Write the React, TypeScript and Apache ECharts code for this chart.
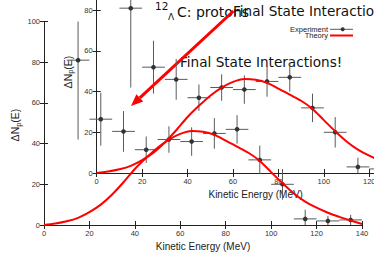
import React, { useEffect, useRef } from "react";
import * as echarts from "echarts";

// ---- data ----
const energy = [15, 25, 35, 45, 55, 65, 75, 85, 95, 105, 115, 125, 135];
const counts = [81, 52, 46, 37, 42, 41, 45, 47, 32, 20, 3, 2, 2.5];
const countErr = [39, 13, 10, 6.5, 6.5, 7, 7.5, 7, 7, 7.5, 4.5, 2.5, 2.5];
const binHalfWidth = [5, 5, 5, 5, 5, 5, 5, 5, 5, 5, 5, 5, 5];
const theoryEnergy = [0, 5, 10, 15, 20, 25, 30, 35, 40, 45, 50, 55, 60, 65, 70, 75, 80, 85, 90, 95, 100, 105, 110, 115, 120, 125, 130, 135, 140];
const theoryValues = [0, 0.7, 1.8, 3.5, 6.3, 10, 15, 21, 27.5, 33, 38, 42, 44.8, 46.2, 45.8, 44.3, 41.5, 38.5, 35.5, 31.5, 26, 20.5, 15.5, 11.5, 8.5, 6, 4, 2.2, 0.5];
const xTickStep = 20;
const xRange = [0, 140];
const yRange = [0, 100];

const SANS = "'Liberation Sans', Arial, Helvetica, sans-serif";
const DEJAVU = "'DejaVu Sans', sans-serif";

function axesFor(gridIndex: number) {
  const line = { show: true, lineStyle: { color: "#222", width: 1 } };
  const tick = { show: true, inside: true, length: 4, lineStyle: { color: "#222", width: 1 } };
  const xs = [
    {
      gridIndex, type: "value", min: xRange[0], max: xRange[1], interval: xTickStep, position: "bottom",
      axisLine: line, axisTick: tick, splitLine: { show: false },
      axisLabel: { fontSize: 7.5, color: "#333", margin: 4, fontFamily: SANS },
      name: "Kinetic Energy (MeV)", nameLocation: "middle", nameGap: 13,
      nameTextStyle: { fontSize: 10, color: "#222", fontFamily: SANS },
    },
    {
      gridIndex, type: "value", min: xRange[0], max: xRange[1], interval: xTickStep, position: "top",
      axisLine: line, axisTick: tick, splitLine: { show: false }, axisLabel: { show: false },
    },
  ];
  const ys = [
    {
      gridIndex, type: "value", min: yRange[0], max: yRange[1], interval: 20, position: "left",
      axisLine: line, axisTick: tick, splitLine: { show: false },
      axisLabel: { fontSize: 7.5, color: "#333", margin: 4, fontFamily: SANS },
    },
    {
      gridIndex, type: "value", min: yRange[0], max: yRange[1], interval: 20, position: "right",
      axisLine: line, axisTick: tick, splitLine: { show: false }, axisLabel: { show: false },
    },
  ];
  return { xs, ys };
}

const expData = energy.map((e, i) => [e, counts[i], binHalfWidth[i], countErr[i]]);
const theoryData = theoryEnergy.map((e, i) => [e, theoryValues[i]]);

function errorRender(params: any, api: any) {
  const x = api.value(0), y = api.value(1), ex = api.value(2), ey = api.value(3);
  const c = api.coord([x, y]);
  const l = api.coord([x - ex, y]);
  const r = api.coord([x + ex, y]);
  const t = api.coord([x, y + ey]);
  const b = api.coord([x, y - ey]);
  const st = { stroke: "#5a5a5a", lineWidth: 1 };
  return {
    type: "group",
    children: [
      { type: "line", shape: { x1: l[0], y1: l[1], x2: r[0], y2: r[1] }, style: st },
      { type: "line", shape: { x1: t[0], y1: t[1], x2: b[0], y2: b[1] }, style: st },
      { type: "circle", shape: { cx: c[0], cy: c[1], r: 2.3 }, style: { fill: "#333" } },
    ],
  };
}

function seriesFor(xIdx: number, yIdx: number) {
  return [
    {
      type: "custom", name: "Experiment", xAxisIndex: xIdx, yAxisIndex: yIdx,
      renderItem: errorRender, data: expData, clip: true, encode: { x: 0, y: 1 },
    },
    {
      type: "line", name: "Theory", xAxisIndex: xIdx, yAxisIndex: yIdx, data: theoryData,
      smooth: 0.3, showSymbol: false, symbol: "none",
      lineStyle: { color: "#ff0000", width: 2 }, z: 5,
    },
  ];
}

function yName(cx: number, cy: number) {
  return {
    type: "text", x: cx, y: cy, rotation: Math.PI / 2,
    style: {
      text: "{n|ΔN}{s|p}{n|(E)}", align: "center", verticalAlign: "middle", fill: "#222",
      rich: {
        n: { fontSize: 10.5, fontFamily: SANS, fill: "#222", lineHeight: 14, verticalAlign: "middle" },
        s: { fontSize: 7.5, fontFamily: SANS, fill: "#222", lineHeight: 8, verticalAlign: "bottom" },
      },
    },
  };
}

export default function App() {
  const ref = useRef<HTMLDivElement>(null);
  useEffect(() => {
    if (!ref.current) return;
    const chart = echarts.init(ref.current, undefined, { renderer: "svg" });
    const main = axesFor(0);
    const inset = axesFor(1);
    const tip = [131, 106];
    const start = [233.5, 11];
    const dx = start[0] - tip[0], dy = start[1] - tip[1];
    const len = Math.sqrt(dx * dx + dy * dy);
    const ux = dx / len, uy = dy / len;
    const hl = 12, hw = 5;
    const bc = [tip[0] + ux * hl, tip[1] + uy * hl];
    const px = -uy, py = ux;
    chart.setOption({
      animation: false,
      backgroundColor: "#fff",
      grid: [
        { left: 44, top: 21.5, width: 318, height: 203.5, outerBoundsMode: "none", containLabel: false },
        { left: 96.7, top: -30.5, width: 318, height: 203.5, outerBoundsMode: "none", containLabel: false },
      ],
      xAxis: [...main.xs, ...inset.xs],
      yAxis: [...main.ys, ...inset.ys],
      series: [...seriesFor(0, 0), ...seriesFor(2, 2)],
      graphic: [
        yName(15, 125),
        yName(67.5, 72),
        // legend
        { type: "text", x: 328, y: 29.3, style: { text: "Experiment", fontSize: 7.5, fontFamily: SANS, fill: "#222", align: "right", verticalAlign: "middle" } },
        { type: "line", shape: { x1: 330, y1: 29.3, x2: 353, y2: 29.3 }, style: { stroke: "#5a5a5a", lineWidth: 1 } },
        { type: "circle", shape: { cx: 342.7, cy: 29.3, r: 2 }, style: { fill: "#333" } },
        { type: "text", x: 328, y: 35.5, style: { text: "Theory", fontSize: 7.5, fontFamily: SANS, fill: "#222", align: "right", verticalAlign: "middle" } },
        { type: "line", shape: { x1: 330, y1: 35.5, x2: 353, y2: 35.5 }, style: { stroke: "#ff0000", lineWidth: 2 } },
        // title
        { type: "text", x: 155, y: 6, style: { text: "12", fontSize: 10.5, fontFamily: DEJAVU, fill: "#111", verticalAlign: "middle" } },
        { type: "text", x: 168, y: 16.5, style: { text: "Λ", fontSize: 9, fontFamily: DEJAVU, fill: "#111", verticalAlign: "middle" } },
        { type: "text", x: 177, y: 11.5, style: { text: "C: protons", fontSize: 14, fontFamily: DEJAVU, fill: "#111", verticalAlign: "middle" } },
        // annotations
        { type: "text", x: 180, y: 62, style: { text: "Final State Interactions!", fontSize: 13.6, fontFamily: DEJAVU, fill: "#111", verticalAlign: "middle" } },
        { type: "text", x: 233, y: 10.5, style: { text: "Final State Interactions!", fontSize: 13.6, fontFamily: DEJAVU, fill: "#111", verticalAlign: "middle" } },
        { type: "line", shape: { x1: start[0], y1: start[1], x2: bc[0], y2: bc[1] }, style: { stroke: "#ff0000", lineWidth: 3 } },
        {
          type: "polygon",
          shape: { points: [tip, [bc[0] + px * hw, bc[1] + py * hw], [bc[0] - px * hw, bc[1] - py * hw]] },
          style: { fill: "#ff0000" },
        },
      ],
    });
    return () => chart.dispose();
  }, []);
  return <div ref={ref} style={{ position: "absolute", left: 0, top: 0, width: 374, height: 262 }} />;
}
